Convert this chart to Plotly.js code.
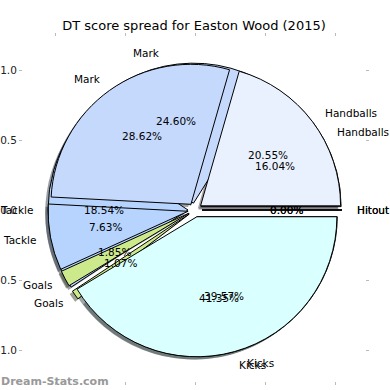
<!DOCTYPE html>
<html><head><meta charset="utf-8">
<script src="https://cdn.plot.ly/plotly-3.0.1.min.js"></script>
<style>html,body{margin:0;padding:0;background:#fff}#chart{width:390px;height:390px}</style>
</head><body><div id="chart"></div>
<script>
// ---- data ----
const categories = ['Handballs', 'Mark', 'Tackle', 'Goals', 'Kicks', 'Hitout'];
const pctFront = [20.55, 28.62, 7.63, 1.85, 41.35, 0.00];
const pctBack  = [16.04, 24.60, 18.54, 1.07, 39.57, 0.00];
const tickVals = [-1, -0.5, 0, 0.5, 1];
const tickText = ['-1.0', '-0.5', '0.0', '0.5', '1.0'];
const chartTitle = 'DT score spread for Easton Wood (2015)';
const watermark = 'Dream-Stats.com';

// ---- style ----
const sliceColors = ['#eaf1fe', '#c5d9fd', '#b6d4fd', '#cce98c', '#d9ffff', '#9e9e9e'];
const pull = 0.05;
const FONT = 'DejaVu Sans, sans-serif';
const W = 390, H = 390;
const M = {l: 23, r: 25, t: 37, b: 9};
const xRange = [-1.2286, 1.2143];
const yRange = [-1.2214, 1.2357];

function toPaperX(v) { return (v - xRange[0]) / (xRange[1] - xRange[0]); }
function toPaperY(v) { return (v - yRange[0]) / (yRange[1] - yRange[0]); }
function shadowColor(hex) {
  const r = parseInt(hex.slice(1, 3), 16), g = parseInt(hex.slice(3, 5), 16), b = parseInt(hex.slice(5, 7), 16);
  return 'rgba(' + Math.round(r * 0.3) + ',' + Math.round(g * 0.3) + ',' + Math.round(b * 0.3) + ',0.5)';
}

const half = 1 + pull;
const dom = {x: [toPaperX(-half), toPaperX(half)], y: [toPaperY(-half), toPaperY(half)]};
const sdx = 0.02 / (xRange[1] - xRange[0]), sdy = 0.02 / (yRange[1] - yRange[0]);
const domShadow = {x: [dom.x[0] - sdx, dom.x[1] - sdx], y: [dom.y[0] - sdy, dom.y[1] - sdy]};

// Plotly (counterclockwise) places the first slice clockwise of the rotation line;
// shift so the first slice starts at 3 o'clock and runs counterclockwise like matplotlib.
function pie(vals, colors, domain, lineW) {
  const total = vals.reduce((a, b) => a + b, 0);
  return {
    type: 'pie', labels: categories, values: vals, sort: false, direction: 'counterclockwise',
    rotation: 90 - 360 * vals[0] / total, pull: pull, domain: domain, textinfo: 'none',
    hoverinfo: 'skip', showlegend: false,
    marker: {colors: colors, line: {color: lineW ? '#000' : 'rgba(0,0,0,0)', width: lineW}}
  };
}
const shadowCols = sliceColors.map(shadowColor);
const traces = [
  pie(pctBack, shadowCols, domShadow, 0),
  pie(pctFront, shadowCols, domShadow, 0),
  pie(pctBack, sliceColors, dom, 1),
  pie(pctFront, sliceColors, dom, 1),
  {type: 'scatter', x: [0], y: [0], mode: 'markers', marker: {opacity: 0}, hoverinfo: 'skip', showlegend: false}
];

const annotations = [];
function addLabels(vals) {
  const total = vals.reduce((a, b) => a + b, 0);
  let cum = 0;
  vals.forEach((v, i) => {
    const th = 2 * Math.PI * (cum + v / total / 2);
    cum += v / total;
    const c = Math.cos(th), s = Math.sin(th);
    const lx = (pull + 1.1) * c, ly = (pull + 1.1) * s;
    annotations.push({xref: 'x', yref: 'y', x: lx, y: ly, text: categories[i], showarrow: false,
      xanchor: lx > 0 ? 'left' : 'right', yanchor: 'middle', borderpad: 0,
      font: {family: FONT, size: 10.5, color: '#000'}});
    annotations.push({xref: 'x', yref: 'y', x: (pull + 0.6) * c, y: (pull + 0.6) * s,
      text: v.toFixed(2) + '%', showarrow: false, xanchor: 'center', yanchor: 'middle', borderpad: 0,
      font: {family: FONT, size: 10.5, color: '#000'}});
  });
}
addLabels(pctBack);
addLabels(pctFront);
annotations.push({xref: 'paper', yref: 'paper', x: 0, y: 0, xshift: -M.l, yshift: -M.b + 1,
  xanchor: 'left', yanchor: 'bottom', text: '<b>' + watermark + '</b>', showarrow: false, borderpad: 0,
  font: {family: FONT, size: 11, color: '#999'}});

const axisBase = {
  showgrid: false, zeroline: false, showline: false, ticks: 'outside', ticklen: 3, tickwidth: 1,
  tickcolor: '#bbb', mirror: 'ticks', tickvals: tickVals, ticktext: tickText,
  tickfont: {family: FONT, size: 10.5, color: '#222'}, fixedrange: true
};
const layout = {
  width: W, height: H, margin: M, paper_bgcolor: '#fff', plot_bgcolor: '#fff',
  title: {text: chartTitle, x: 0.5, xref: 'paper', y: 1 - 25 / H, yref: 'container', yanchor: 'middle',
    font: {family: FONT, size: 13, color: '#000'}},
  xaxis: Object.assign({}, axisBase, {range: xRange}),
  yaxis: Object.assign({}, axisBase, {range: yRange}),
  annotations: annotations
};
Plotly.newPlot('chart', traces, layout, {staticPlot: true, displayModeBar: false});
</script></body></html>
